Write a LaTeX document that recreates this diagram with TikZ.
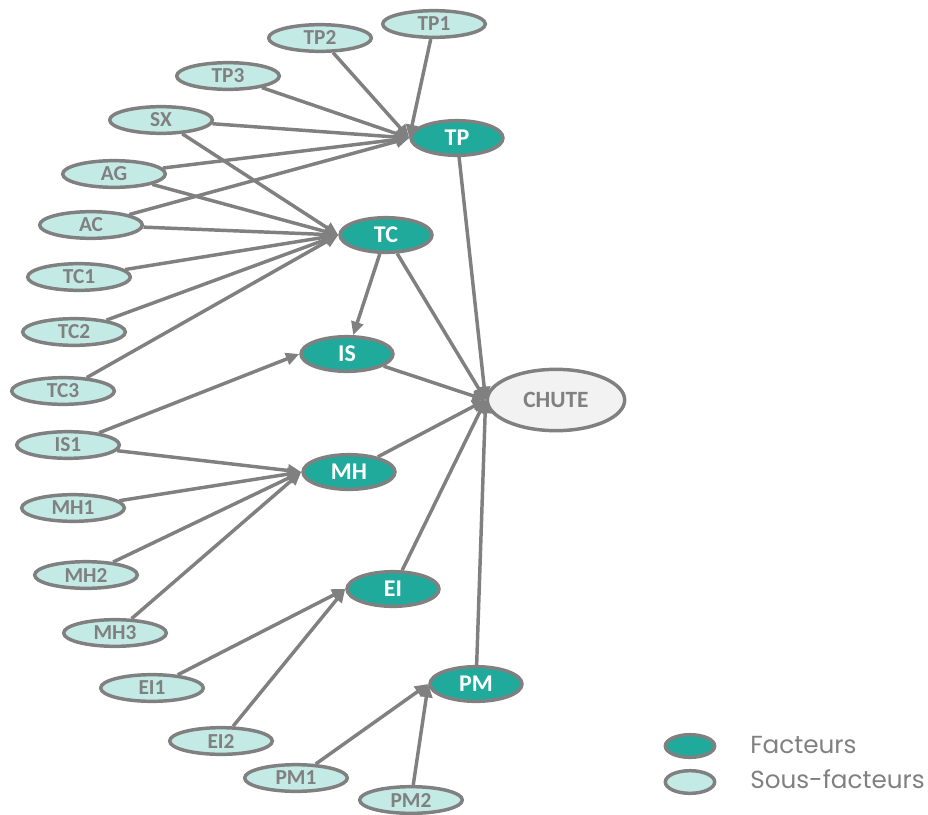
\documentclass[tikz,border=0pt]{standalone}
\usepackage{fontspec}
\setmainfont{Carlito}
\newfontfamily\legfont{Poppins}
\usetikzlibrary{shapes.geometric,arrows.meta}
\definecolor{teal1}{HTML}{1FAA9C}
\definecolor{light1}{HTML}{C3EAE5}
\definecolor{gray1}{HTML}{808080}
\definecolor{chutefill}{HTML}{F2F2F2}
\tikzset{
  sub/.style={ellipse,draw=gray1,line width=2.6pt,fill=light1,minimum width=77pt,minimum height=20pt,inner sep=0pt,text=gray1,font=\bfseries\fontsize{16}{18}\selectfont},
  fac/.style={ellipse,draw=gray1,line width=2.6pt,fill=teal1,minimum width=69pt,minimum height=26pt,inner sep=0pt,text=white,font=\bfseries\fontsize{18}{20}\selectfont},
  chute/.style={ellipse,draw=gray1,line width=2.6pt,fill=chutefill,minimum width=103pt,minimum height=46pt,inner sep=0pt,text=gray1,font=\bfseries\fontsize{17.5}{19}\selectfont},
  arr/.style={draw=gray1,line width=2.6pt,-{Triangle[length=10pt,width=9pt]}},
  legell/.style={ellipse,draw=gray1,line width=2.6pt,minimum width=37pt,minimum height=17pt,inner sep=0pt},
  legtxt/.style={anchor=west,text=gray1,inner sep=0pt,font=\legfont\fontsize{18.5}{20}\selectfont}
}
\begin{document}
\begin{tikzpicture}[x=0.75pt,y=-0.75pt]
\useasboundingbox (0,0) rectangle (928,814);
% factors
\node[fac] (TP) at (457,138) {TP};
\node[fac] (TC) at (386,235) {TC};
\node[fac] (IS) at (347,354) {IS};
\node[fac] (MH) at (349,472) {MH};
\node[fac] (EI) at (393,589) {EI};
\node[fac] (PM) at (476,684) {PM};
\node[chute] (CH) at (556,400) {CHUTE};
% sub factors
\node[sub] (TP1) at (434,24) {TP1};
\node[sub] (TP2) at (320,38) {TP2};
\node[sub] (TP3) at (228,76) {TP3};
\node[sub] (SX) at (161,120) {SX};
\node[sub] (AG) at (114,174) {AG};
\node[sub] (AC) at (91,225) {AC};
\node[sub] (TC1) at (79,277) {TC1};
\node[sub] (TC2) at (74,332) {TC2};
\node[sub] (TC3) at (63,391) {TC3};
\node[sub] (IS1) at (68,445) {IS1};
\node[sub] (MH1) at (73,508) {MH1};
\node[sub] (MH2) at (86,575) {MH2};
\node[sub] (MH3) at (115,633) {MH3};
\node[sub] (EI1) at (152,688) {EI1};
\node[sub] (EI2) at (221,741) {EI2};
\node[sub] (PM1) at (296,778) {PM1};
\node[sub] (PM2) at (411,800) {PM2};
% edges to TP
\foreach \s in {TP1,TP2,TP3,SX,AG,AC} \draw[arr] (\s) -- (TP.west);
% edges to TC
\foreach \s in {SX,AG,AC,TC1,TC2,TC3} \draw[arr] (\s) -- (TC.west);
\draw[arr] (TC) -- (IS);
\draw[arr] (IS1) -- (IS.west);
\foreach \s in {IS1,MH1,MH2,MH3} \draw[arr] (\s) -- (MH.west);
\foreach \s in {EI1,EI2} \draw[arr] (\s) -- (EI.west);
\foreach \s in {PM1,PM2} \draw[arr] (\s) -- (PM.west);
\foreach \s in {TP,TC,IS,MH,EI,PM} \draw[arr] (\s) -- (CH.west);
% legend
\node[legell,fill=teal1] (L1) at (690,746) {};
\node[legell,fill=light1] (L2) at (690,782) {};
\node[legtxt] (T1) at (750,745) {Facteurs};
\node[legtxt] (T2) at (750,779) {Sous-facteurs};
\end{tikzpicture}
\end{document}
